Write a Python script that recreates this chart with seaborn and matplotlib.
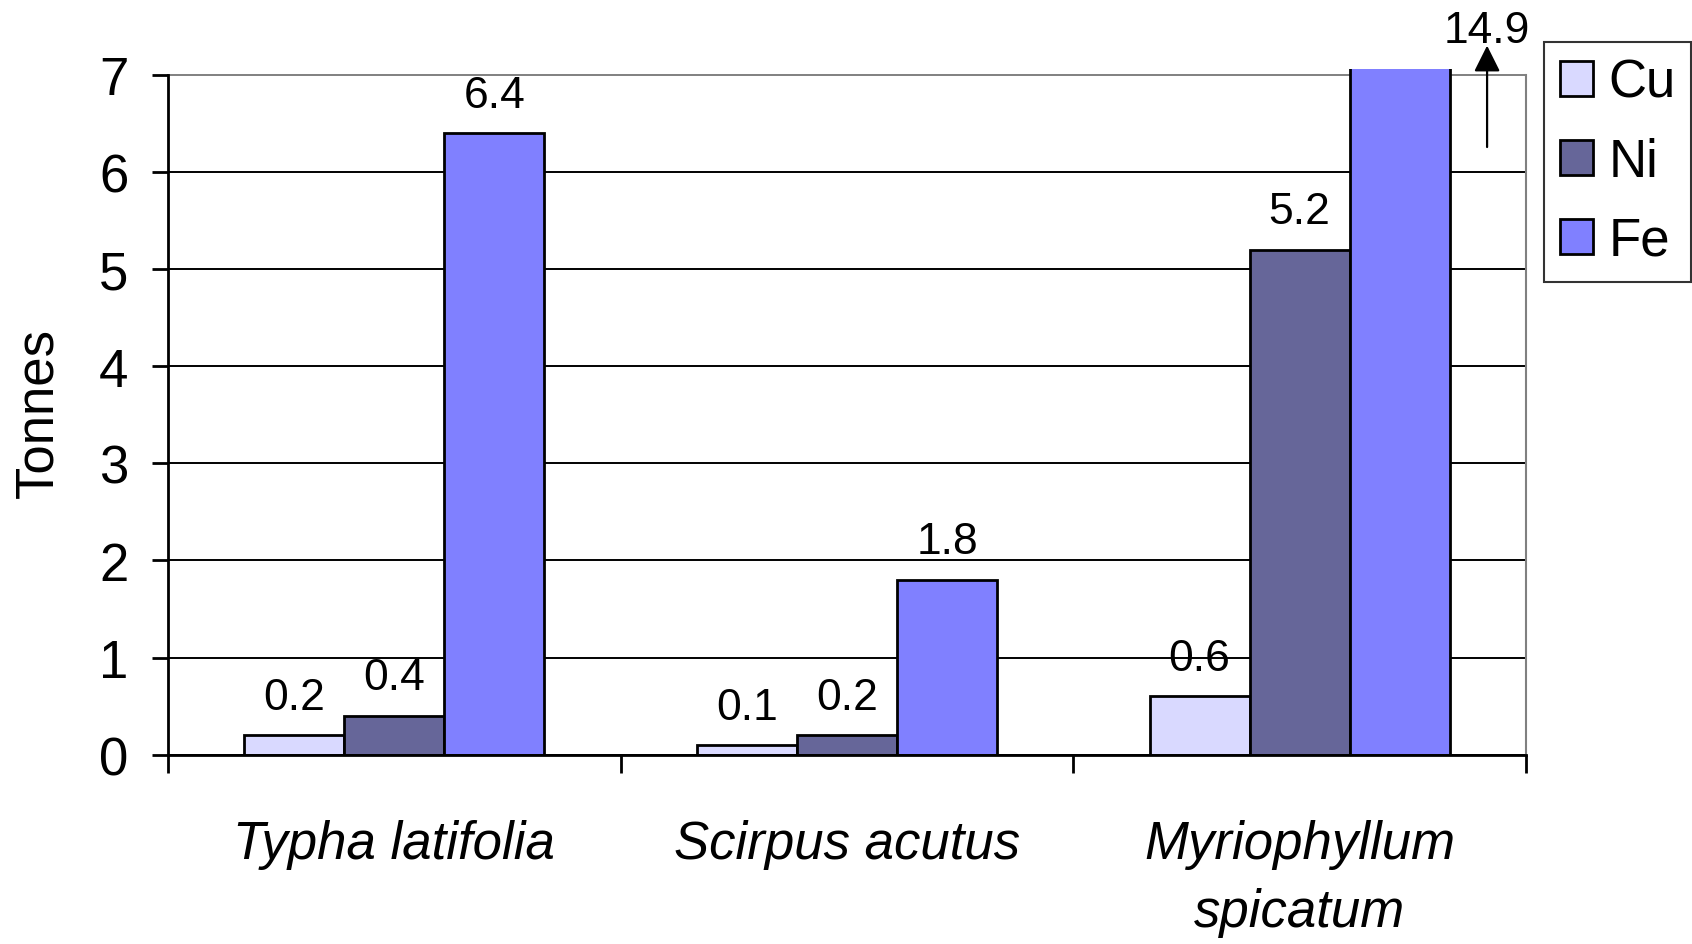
import matplotlib
matplotlib.use("Agg")
import matplotlib.pyplot as plt
from matplotlib.patches import Patch
import pandas as pd
import seaborn as sns

# Heavy metal uptake per plant species (tonnes)
SPECIES = ["Typha latifolia", "Scirpus acutus", "Myriophyllum\nspicatum"]
METALS = ["Cu", "Ni", "Fe"]
CU = [0.2, 0.1, 0.6]
NI = [0.4, 0.2, 5.2]
FE = [6.4, 1.8, 14.9]
COLORS = ["#D9D9FF", "#666699", "#8080FF"]
Y_TICKS = [0, 1, 2, 3, 4, 5, 6, 7]
Y_MAX = 7.06


def main() -> None:
    sns.set_style("white")
    plt.rcParams["font.family"] = ["Liberation Sans", "DejaVu Sans"]
    plt.rcParams["text.color"] = "black"
    plt.rcParams["axes.labelcolor"] = "black"
    plt.rcParams["xtick.color"] = "black"
    plt.rcParams["ytick.color"] = "black"

    df = pd.DataFrame(
        {
            "Species": SPECIES * 3,
            "Metal": ["Cu"] * 3 + ["Ni"] * 3 + ["Fe"] * 3,
            "Tonnes": CU + NI + FE,
        }
    )

    fig = plt.figure(figsize=(16.92, 9.45), dpi=100)
    ax = fig.add_axes([0.0993, 0.2003, 0.8026, 0.7257])

    sns.barplot(
        data=df,
        x="Species",
        y="Tonnes",
        hue="Metal",
        hue_order=METALS,
        order=SPECIES,
        palette=COLORS,
        width=0.663,
        edgecolor="black",
        linewidth=2,
        saturation=1,
        legend=False,
        ax=ax,
    )

    ax.set_xlim(-0.5, 2.5)
    ax.set_ylim(0, Y_MAX)
    ax.set_yticks(Y_TICKS)

    # gridlines
    ax.set_axisbelow(True)
    ax.yaxis.grid(True, color="black", linewidth=1.4)
    ax.get_ygridlines()[-1].set_color("#808080")

    # spines
    ax.spines["top"].set_visible(False)
    ax.spines["left"].set_bounds(0, 7)
    ax.spines["right"].set_bounds(0, 7)
    ax.spines["left"].set_color("black")
    ax.spines["left"].set_linewidth(2)
    ax.spines["bottom"].set_color("black")
    ax.spines["bottom"].set_linewidth(2)
    ax.spines["right"].set_color("#808080")
    ax.spines["right"].set_linewidth(1.5)

    # ticks
    ax.tick_params(axis="y", length=11.5, width=2, color="black", pad=17, labelsize=38, left=True)
    ax.set_xticks([-0.5, 0.5, 1.5, 2.5], minor=True)
    ax.tick_params(axis="x", which="minor", length=13, width=2, color="black", bottom=True)
    ax.tick_params(axis="x", which="major", length=0, pad=46, labelsize=38)
    for lbl in ax.get_xticklabels():
        lbl.set_fontstyle("italic")
        lbl.set_linespacing(1.46)

    ax.set_xlabel("")
    ax.set_ylabel("Tonnes", fontsize=38, labelpad=26)

    # value labels
    for container in ax.containers:
        for bar in container:
            h = bar.get_height()
            if h > Y_MAX:
                continue
            ax.annotate(
                f"{h:.1f}",
                (bar.get_x() + bar.get_width() / 2, h),
                xytext=(0, 19),
                textcoords="offset points",
                ha="center",
                va="baseline",
                fontsize=32,
            )

    # the off-scale Fe bar for Myriophyllum
    off_scale = FE[2]
    ax.annotate(
        "",
        xy=(2.414, 7.30),
        xytext=(2.414, 6.256),
        annotation_clip=False,
        arrowprops=dict(arrowstyle="-|>", color="black", lw=1.6, mutation_scale=40, shrinkA=0, shrinkB=0),
    )
    ax.text(2.414, 7.337, f"{off_scale:.1f}", ha="center", va="baseline", fontsize=32, clip_on=False)

    handles = [Patch(facecolor=c, edgecolor="black", linewidth=2) for c in COLORS]
    leg = fig.legend(
        handles,
        METALS,
        loc="upper left",
        bbox_to_anchor=(0.9125, 0.9545),
        fontsize=38,
        frameon=True,
        fancybox=False,
        handlelength=0.62,
        handleheight=0.66,
        handletextpad=0.3,
        labelspacing=0.55,
        borderpad=0.3,
        borderaxespad=0,
    )
    leg.get_frame().set_edgecolor("black")
    leg.get_frame().set_linewidth(1.5)

    fig.savefig("out.png", dpi=100)


if __name__ == "__main__":
    main()
